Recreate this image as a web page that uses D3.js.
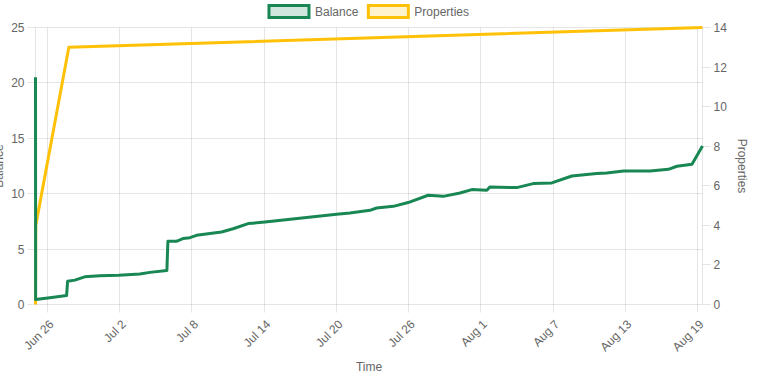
<!DOCTYPE html>
<html lang="en">
<head>
  <meta charset="UTF-8" />
  <title>Balance and Properties</title>
  <script src="https://d3js.org/d3.v7.min.js"></script>
  <style>
    body {
      margin: 0;
      background: #fff;
      font-family: "Liberation Sans", Arial, Helvetica, sans-serif;
    }
    text {
      font-size: 12px;
      fill: #666;
    }
  </style>
</head>
<body>
  <svg width="762" height="384"></svg>

  <script>
    // balance series (time, value)
    const balanceDates = [
      "2023-06-25T00:00", "2023-06-25T00:15", "2023-06-26T04:30", "2023-06-27T14:00",
      "2023-06-27T16:00", "2023-06-28T06:30", "2023-06-29T02:00", "2023-06-30T08:00",
      "2023-07-01T22:00", "2023-07-03T16:00", "2023-07-04T12:00", "2023-07-05T22:00",
      "2023-07-06T00:00", "2023-07-06T17:00", "2023-07-07T06:00", "2023-07-07T20:00",
      "2023-07-08T09:00", "2023-07-10T11:00", "2023-07-11T10:00", "2023-07-12T16:00",
      "2023-07-14T01:30", "2023-07-20T00:30", "2023-07-21T03:00", "2023-07-22T19:00",
      "2023-07-23T08:00", "2023-07-24T17:30", "2023-07-25T23:00", "2023-07-27T15:00",
      "2023-07-28T21:00", "2023-07-30T06:30", "2023-07-31T06:00", "2023-08-01T12:00",
      "2023-08-01T18:00", "2023-08-03T23:30", "2023-08-05T08:30", "2023-08-06T21:30",
      "2023-08-08T13:30", "2023-08-10T15:00", "2023-08-11T11:00", "2023-08-12T20:30",
      "2023-08-15T01:30", "2023-08-16T14:00", "2023-08-17T07:00", "2023-08-18T13:00",
      "2023-08-19T10:00"
    ];
    const balanceValues = [
      20.5, 0.45, 0.6, 0.81,
      2.1, 2.2, 2.5, 2.6,
      2.65, 2.75, 2.9, 3.07,
      5.7, 5.7, 5.95, 6.03,
      6.24, 6.54, 6.84, 7.3,
      7.44, 8.14, 8.26, 8.5,
      8.71, 8.86, 9.2, 9.86,
      9.76, 10.06, 10.37, 10.31,
      10.61, 10.55, 10.91, 10.97,
      11.6, 11.82, 11.87, 12.05,
      12.05, 12.2, 12.48, 12.66,
      14.3
    ];

    // properties series
    const propertyDates = ["2023-06-25T00:00", "2023-06-25T00:30", "2023-06-27T18:30", "2023-08-19T10:00"];
    const propertyValues = [0, 4, 13, 14];

    const xTickDates = ["2023-06-26", "2023-07-02", "2023-07-08", "2023-07-14", "2023-07-20",
      "2023-07-26", "2023-08-01", "2023-08-07", "2023-08-13", "2023-08-19"];
    const balanceTicks = [0, 5, 10, 15, 20, 25];
    const propertyTicks = [0, 2, 4, 6, 8, 10, 12, 14];

    const green = "rgb(25,135,84)";
    const yellow = "rgb(255,193,7)";
    const gridColor = "rgba(0,0,0,0.1)";

    const parse = d3.utcParse("%Y-%m-%dT%H:%M");
    const parseDay = d3.utcParse("%Y-%m-%d");
    const fmt = d3.utcFormat("%b %-d");

    const balance = balanceDates.map((d, i) => ({ t: parse(d), v: balanceValues[i] }));
    const properties = propertyDates.map((d, i) => ({ t: parse(d), v: propertyValues[i] }));

    const area = { left: 35.5, right: 702.5, top: 27.5, bottom: 304.5 };

    const x = d3.scaleUtc()
      .domain(d3.extent(balance, d => d.t))
      .range([area.left, area.right]);
    const yL = d3.scaleLinear().domain([0, 25]).range([area.bottom, area.top]);
    const yR = d3.scaleLinear().domain([0, 14]).range([area.bottom, area.top]);

    const crisp = v => Math.floor(v) + 0.5;

    const svg = d3.select("svg");

    // grid
    const grid = svg.append("g").attr("stroke", gridColor).attr("stroke-width", 1);
    balanceTicks.forEach(t => {
      grid.append("line")
        .attr("x1", area.left - 8).attr("x2", area.right)
        .attr("y1", crisp(yL(t))).attr("y2", crisp(yL(t)));
    });
    xTickDates.forEach(d => {
      const px = crisp(x(parseDay(d)));
      grid.append("line")
        .attr("x1", px).attr("x2", px)
        .attr("y1", area.top).attr("y2", area.bottom + 8);
    });
    // axis borders
    grid.append("line").attr("x1", area.left).attr("x2", area.left)
      .attr("y1", area.top).attr("y2", area.bottom);
    grid.append("line").attr("x1", area.right).attr("x2", area.right)
      .attr("y1", area.top).attr("y2", area.bottom);
    propertyTicks.forEach(t => {
      grid.append("line")
        .attr("x1", area.right).attr("x2", area.right + 8)
        .attr("y1", crisp(yR(t))).attr("y2", crisp(yR(t)));
    });

    // left tick labels
    svg.append("g").selectAll("text")
      .data(balanceTicks)
      .enter().append("text")
      .attr("x", 24.5)
      .attr("y", d => yL(d) + 4.5)
      .attr("text-anchor", "end")
      .text(d => d);

    // right tick labels
    svg.append("g").selectAll("text")
      .data(propertyTicks)
      .enter().append("text")
      .attr("x", 713.5)
      .attr("y", d => yR(d) + 4.5)
      .text(d => d);

    // x tick labels
    svg.append("g").selectAll("text")
      .data(xTickDates)
      .enter().append("text")
      .attr("text-anchor", "end")
      .attr("transform", d => `translate(${x(parseDay(d)) + 7},325) rotate(-45)`)
      .text(d => fmt(parseDay(d)));

    // axis titles
    svg.append("text")
      .attr("x", (area.left + area.right) / 2)
      .attr("y", 371)
      .attr("text-anchor", "middle")
      .text("Time");
    svg.append("text")
      .attr("transform", `translate(2.5,${(area.top + area.bottom) / 2}) rotate(-90)`)
      .attr("text-anchor", "middle")
      .text("Balance");
    svg.append("text")
      .attr("transform", `translate(737.5,${(area.top + area.bottom) / 2}) rotate(90)`)
      .attr("text-anchor", "middle")
      .text("Properties");

    // lines (properties under balance)
    svg.append("path")
      .datum(properties)
      .attr("fill", "none")
      .attr("stroke", yellow)
      .attr("stroke-width", 3)
      .attr("stroke-linejoin", "round")
      .attr("d", d3.line().x(d => x(d.t)).y(d => yR(d.v)));

    svg.append("path")
      .datum(balance)
      .attr("fill", "none")
      .attr("stroke", green)
      .attr("stroke-width", 3)
      .attr("stroke-linejoin", "round")
      .attr("d", d3.line().x(d => x(d.t)).y(d => yL(d.v)));

    // legend
    const legendItems = [
      { label: "Balance", color: green, fill: "rgba(25,135,84,0.2)" },
      { label: "Properties", color: yellow, fill: "rgba(255,193,7,0.2)" }
    ];
    const legend = svg.append("g");
    const items = legend.selectAll("g")
      .data(legendItems)
      .enter().append("g");
    items.append("rect")
      .attr("width", 40).attr("height", 12)
      .attr("y", 5.5)
      .attr("fill", d => d.fill)
      .attr("stroke", d => d.color)
      .attr("stroke-width", 3);
    items.append("text")
      .attr("x", 46)
      .attr("y", 16)
      .text(d => d.label);
    const widths = [];
    items.each(function() { widths.push(46 + this.querySelector("text").getComputedTextLength()); });
    const total = d3.sum(widths) + 10 * (widths.length - 1);
    let cx = (area.left + area.right) / 2 - total / 2;
    items.attr("transform", (d, i) => {
      const tx = cx;
      cx += widths[i] + 10;
      return `translate(${tx},0)`;
    });
  </script>
</body>
</html>
